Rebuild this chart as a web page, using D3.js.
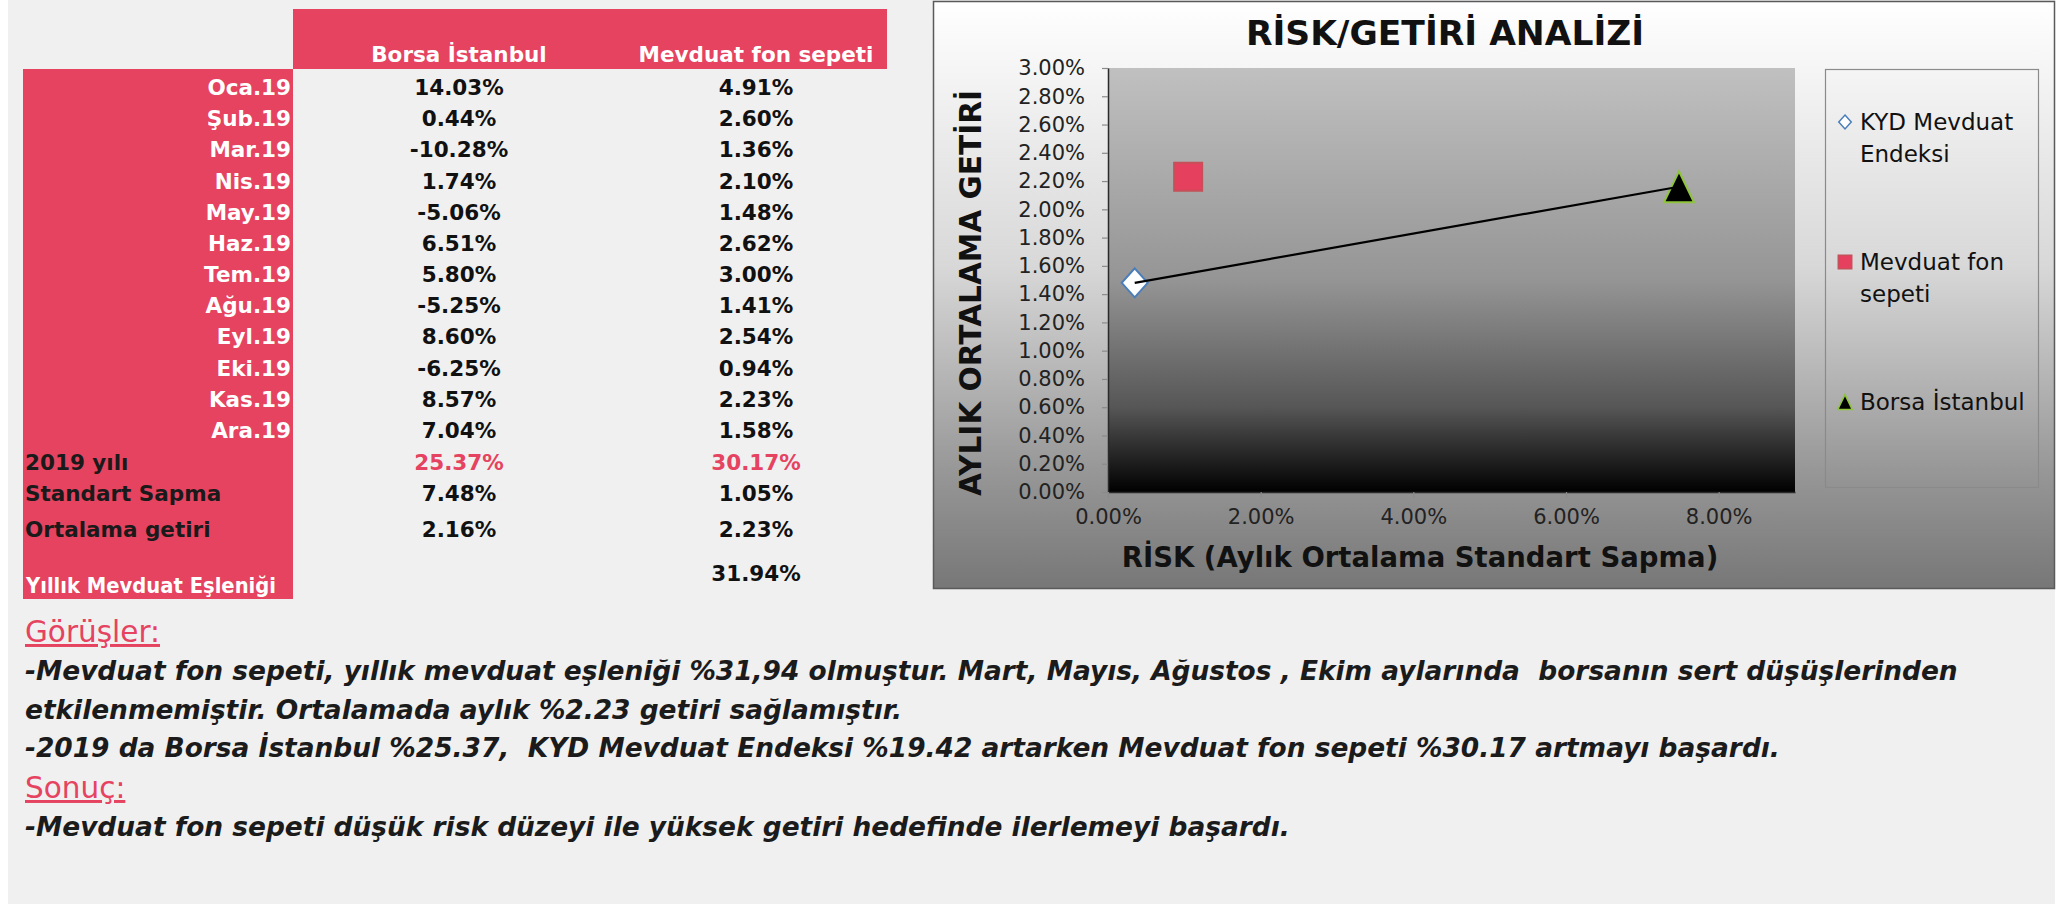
<!DOCTYPE html>
<html>
<head>
<meta charset="utf-8">
<script src="https://cdn.jsdelivr.net/npm/d3@7"></script>
<style>
  body { margin: 0; background: #fff; }
  text { white-space: pre; }
</style>
</head>
<body>
<div class="page"></div>
<script>
// table data
const months = ["Oca.19", "Şub.19", "Mar.19", "Nis.19", "May.19", "Haz.19",
  "Tem.19", "Ağu.19", "Eyl.19", "Eki.19", "Kas.19", "Ara.19"];
const borsaMonthly = [14.03, 0.44, -10.28, 1.74, -5.06, 6.51, 5.80, -5.25, 8.60, -6.25, 8.57, 7.04];
const fonMonthly = [4.91, 2.60, 1.36, 2.10, 1.48, 2.62, 3.00, 1.41, 2.54, 0.94, 2.23, 1.58];
const columnNames = ["Borsa İstanbul", "Mevduat fon sepeti"];
const summaryLabels = ["2019 yılı", "Standart Sapma", "Ortalama getiri"];
const borsaSummary = [25.37, 7.48, 2.16];
const fonSummary = [30.17, 1.05, 2.23];
const depositLabel = "Yıllık Mevduat Eşleniği";
const depositValue = 31.94;

// scatter data (risk = monthly std dev, return = monthly average)
const seriesNames = ["KYD Mevduat Endeksi", "Mevduat fon sepeti", "Borsa İstanbul"];
const riskValues = [0.35, 1.05, 7.48];
const returnValues = [1.48, 2.23, 2.16];
const xTicks = [0, 2, 4, 6, 8];
const yTicks = [0, 0.2, 0.4, 0.6, 0.8, 1.0, 1.2, 1.4, 1.6, 1.8, 2.0, 2.2, 2.4, 2.6, 2.8, 3.0];

// notes under the table
const notes = [
  { kind: "head", text: "Görüşler:" },
  { kind: "body", text: "-Mevduat fon sepeti, yıllık mevduat eşleniği %31,94 olmuştur. Mart, Mayıs, Ağustos , Ekim aylarında  borsanın sert düşüşlerinden" },
  { kind: "body", text: "etkilenmemiştir. Ortalamada aylık %2.23 getiri sağlamıştır." },
  { kind: "body", text: "-2019 da Borsa İstanbul %25.37,  KYD Mevduat Endeksi %19.42 artarken Mevduat fon sepeti %30.17 artmayı başardı." },
  { kind: "head", text: "Sonuç:" },
  { kind: "body", text: "-Mevduat fon sepeti düşük risk düzeyi ile yüksek getiri hedefinde ilerlemeyi başardı." }
];

const pink = "#e5435f";
const fmt = v => v.toFixed(2) + "%";
const W = 2072, H = 904;

const svg = d3.select(".page").append("svg")
  .attr("width", W).attr("height", H)
  .style("display", "block");

const defs = svg.append("defs");
const bgGrad = defs.append("linearGradient").attr("id", "chartBg")
  .attr("x1", 0).attr("y1", 0).attr("x2", 0).attr("y2", 1);
[[0, "#ffffff"], [0.45, "#d8d8d8"], [0.8, "#979797"], [1, "#777777"]]
  .forEach(s => bgGrad.append("stop").attr("offset", s[0]).attr("stop-color", s[1]));
const plotGrad = defs.append("linearGradient").attr("id", "plotBg")
  .attr("x1", 0).attr("y1", 0).attr("x2", 0).attr("y2", 1);
[[0, "#c0c0c0"], [0.5, "#959595"], [0.8, "#565656"], [1, "#000000"]]
  .forEach(s => plotGrad.append("stop").attr("offset", s[0]).attr("stop-color", s[1]));

// page background
svg.append("rect").attr("x", 8).attr("y", 0).attr("width", 2047).attr("height", H)
  .attr("fill", "#f0f0f0");

// ---------- table ----------
const table = svg.append("g").style("font-family", "'DejaVu Sans', sans-serif")
  .style("font-weight", "bold").style("font-size", "21.5px");

table.append("rect").attr("x", 293).attr("y", 9).attr("width", 594).attr("height", 60).attr("fill", pink);
table.append("rect").attr("x", 23).attr("y", 69).attr("width", 270).attr("height", 530).attr("fill", pink);

const colX = [459, 756];
table.selectAll(".colhead").data(columnNames).enter().append("text")
  .attr("class", "colhead")
  .attr("x", (d, i) => colX[i]).attr("y", 62)
  .attr("text-anchor", "middle").attr("fill", "#fff")
  .text(d => d);

const rowY = d3.scaleLinear().domain([0, months.length - 1]).range([95, 438]);

table.selectAll(".month").data(months).enter().append("text")
  .attr("class", "month")
  .attr("x", 291).attr("y", (d, i) => rowY(i))
  .attr("text-anchor", "end").attr("fill", "#fff")
  .text(d => d);

[borsaMonthly, fonMonthly].forEach((vals, c) => {
  table.selectAll(".val" + c).data(vals).enter().append("text")
    .attr("class", "val" + c)
    .attr("x", colX[c]).attr("y", (d, i) => rowY(i))
    .attr("text-anchor", "middle").attr("fill", "#111")
    .text(d => fmt(d));
});

const summaryY = [470, 501, 537];
table.selectAll(".sumlabel").data(summaryLabels).enter().append("text")
  .attr("class", "sumlabel")
  .attr("x", 25).attr("y", (d, i) => summaryY[i])
  .attr("fill", "#1a1a1a")
  .text(d => d);

[borsaSummary, fonSummary].forEach((vals, c) => {
  table.selectAll(".sum" + c).data(vals).enter().append("text")
    .attr("class", "sum" + c)
    .attr("x", colX[c]).attr("y", (d, i) => summaryY[i])
    .attr("text-anchor", "middle")
    .attr("fill", (d, i) => i === 0 ? pink : "#111")
    .text(d => fmt(d));
});

table.append("text").attr("x", 26).attr("y", 593).attr("fill", "#fff")
  .attr("textLength", 250).attr("lengthAdjust", "spacingAndGlyphs")
  .text(depositLabel);
table.append("text").attr("x", colX[1]).attr("y", 581).attr("text-anchor", "middle")
  .attr("fill", "#111").text(fmt(depositValue));

// ---------- notes ----------
const noteY = [642, 680, 719, 757, 798, 836];
const notesG = svg.append("g");
const bodyTexts = [];
notes.forEach((n, i) => {
  const t = notesG.append("text").attr("x", 25).attr("y", noteY[i]);
  if (n.kind === "head") {
    t.attr("fill", pink).style("font-family", "'DejaVu Sans', sans-serif")
      .style("font-size", "29.5px").style("text-decoration", "underline")
      .text(n.text);
  } else {
    t.attr("fill", "#1b1b1b").style("font-family", "'DejaVu Sans', sans-serif")
      .style("font-size", "24px").style("font-weight", "bold").style("font-style", "italic")
      .text(n.text);
    bodyTexts.push(t);
  }
});
// size the note text so the first line spans the same width as in the original
const firstWidth = bodyTexts[0].node().getComputedTextLength();
const bodySize = 24 * 1934 / firstWidth;
bodyTexts.forEach(t => t.style("font-size", bodySize + "px"));

// ---------- risk / return chart ----------
const chart = svg.append("g");
chart.append("rect").attr("x", 933.5).attr("y", 1.5).attr("width", 1121).attr("height", 587)
  .attr("fill", "url(#chartBg)").attr("stroke", "#5a5a5a").attr("stroke-width", 1.5);

const plot = { left: 1108, right: 1795, top: 68, bottom: 492 };
const x = d3.scaleLinear().domain([0, 9]).range([plot.left, plot.right]);
const y = d3.scaleLinear().domain([0, 3]).range([plot.bottom, plot.top]);

chart.append("rect").attr("x", plot.left).attr("y", plot.top)
  .attr("width", plot.right - plot.left).attr("height", plot.bottom - plot.top)
  .attr("fill", "url(#plotBg)");

chart.append("text").attr("x", 1445).attr("y", 45).attr("text-anchor", "middle")
  .style("font-family", "'DejaVu Sans', sans-serif").style("font-weight", "bold")
  .style("font-size", "34.5px").attr("fill", "#111")
  .text("RİSK/GETİRİ ANALİZİ");

const yAxis = chart.append("g").attr("transform", `translate(${plot.left},0)`)
  .call(d3.axisLeft(y).tickValues(yTicks).tickFormat(fmt).tickSize(6).tickSizeOuter(0));
const xAxis = chart.append("g").attr("transform", `translate(0,${plot.bottom})`)
  .call(d3.axisBottom(x).tickValues(xTicks).tickFormat(fmt).tickSize(6).tickSizeOuter(0));
[yAxis, xAxis].forEach(a => {
  a.select(".domain").attr("stroke", "#2a2a2a").attr("stroke-width", 1.5);
  a.selectAll(".tick line").attr("stroke", "#8a8a8a").attr("stroke-width", 1.2);
  a.selectAll(".tick text").attr("fill", "#222")
    .style("font-family", "'DejaVu Sans', sans-serif").style("font-size", "21px");
});
yAxis.selectAll(".tick text").attr("x", -23);
xAxis.selectAll(".tick text").attr("y", 17);

chart.append("text").attr("x", 1420).attr("y", 567).attr("text-anchor", "middle")
  .style("font-family", "'DejaVu Sans', sans-serif").style("font-weight", "bold")
  .style("font-size", "27.5px").attr("fill", "#111")
  .text("RİSK (Aylık Ortalama Standart Sapma)");

chart.append("text").attr("transform", "translate(981,293) rotate(-90)")
  .attr("text-anchor", "middle")
  .attr("textLength", 406).attr("lengthAdjust", "spacingAndGlyphs")
  .style("font-family", "'DejaVu Sans', sans-serif").style("font-weight", "bold")
  .style("font-size", "31px").attr("fill", "#111")
  .text("AYLIK ORTALAMA GETİRİ");

// marker shapes
const diamond = (w, h) => `M0,${-h / 2}L${w / 2},0L0,${h / 2}L${-w / 2},0Z`;
const square = s => `M${-s / 2},${-s / 2}h${s}v${s}h${-s}Z`;
const triangle = (w, h) => `M0,${-h / 2}L${w / 2},${h / 2}L${-w / 2},${h / 2}Z`;
const markerStyles = [
  { path: s => diamond(26 * s, 29 * s), fill: "#fff", stroke: "#4a7ebb" },
  { path: s => square(28 * s), fill: "#e5405e", stroke: "#c6505a" },
  { path: s => triangle(30 * s, 31 * s), fill: "#000", stroke: "#8fc43c" }
];

chart.selectAll(".pt").data(seriesNames).enter().append("path")
  .attr("class", "pt")
  .attr("transform", (d, i) => `translate(${x(riskValues[i])},${y(returnValues[i])})`)
  .attr("d", (d, i) => markerStyles[i].path(1))
  .attr("fill", (d, i) => markerStyles[i].fill)
  .attr("stroke", (d, i) => markerStyles[i].stroke)
  .attr("stroke-width", 2);

// line from deposit index to stock index
const linked = [0, 2];
chart.append("path")
  .attr("d", d3.line().x(i => x(riskValues[i])).y(i => y(returnValues[i]))(linked))
  .attr("stroke", "#000").attr("stroke-width", 2.2).attr("fill", "none");

// legend
const legend = chart.append("g");
legend.append("rect").attr("x", 1825.5).attr("y", 69.5).attr("width", 213).attr("height", 418)
  .attr("fill", "none").attr("stroke", "#8a8a8a").attr("stroke-width", 1.2);
const legendLines = [["KYD Mevduat", "Endeksi"], ["Mevduat fon", "sepeti"], ["Borsa İstanbul"]];
const legendY = [122, 262, 402];
legendLines.forEach((lines, i) => {
  legend.append("path")
    .attr("transform", `translate(1845,${legendY[i]})`)
    .attr("d", markerStyles[i].path(0.48))
    .attr("fill", markerStyles[i].fill).attr("stroke", markerStyles[i].stroke)
    .attr("stroke-width", 1.5);
  lines.forEach((l, j) => {
    legend.append("text").attr("x", 1860).attr("y", legendY[i] + 8 + j * 32)
      .style("font-family", "'DejaVu Sans', sans-serif").style("font-size", "23px")
      .attr("fill", "#111").text(l);
  });
});
</script>
</body>
</html>
